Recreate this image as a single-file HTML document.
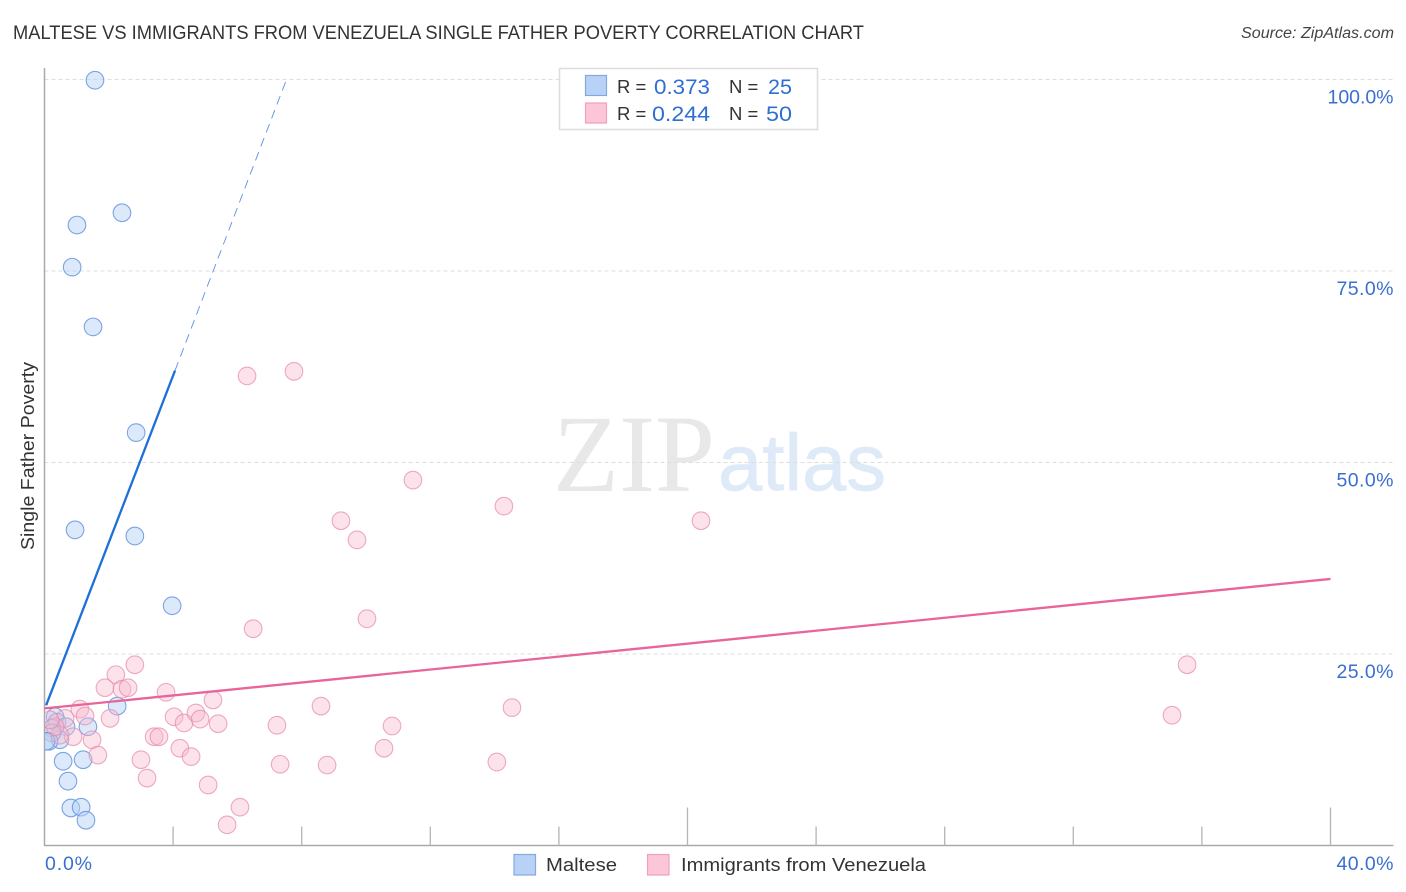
<!DOCTYPE html>
<html lang="en">
<head>
<meta charset="utf-8">
<title>Maltese vs Immigrants from Venezuela Single Father Poverty Correlation Chart</title>
<style>
html,body{margin:0;padding:0;background:#fff;}
svg{display:block;font-family:"Liberation Sans",sans-serif;}
</style>
</head>
<body>
<svg id="chart" width="1406" height="892" viewBox="0 0 1406 892" xmlns="http://www.w3.org/2000/svg">
  <defs>
    <clipPath id="plot-clip"><rect x="45" y="60" width="1350" height="786"/></clipPath>
  </defs>
  <rect x="0" y="0" width="1406" height="892" fill="#fff"/>
  <text x="13" y="39" font-size="19" fill="#333" textLength="851" lengthAdjust="spacingAndGlyphs">MALTESE VS IMMIGRANTS FROM VENEZUELA SINGLE FATHER POVERTY CORRELATION CHART</text>
  <text x="1241" y="38" font-size="15.5" font-style="italic" fill="#444" textLength="153" lengthAdjust="spacingAndGlyphs">Source: ZipAtlas.com</text>
  <g>
    <text x="553" y="491" font-family="'Liberation Serif',serif" font-size="110" fill="#e8e8e8" textLength="162" lengthAdjust="spacingAndGlyphs">ZIP</text>
    <text x="718" y="490" font-size="80" fill="#dfeaf8" stroke="#dfeaf8" stroke-width="0.8" textLength="168" lengthAdjust="spacingAndGlyphs">atlas</text>
  </g>
  <g id="grid"></g>
  <g id="axes"></g>
  <g id="points" clip-path="url(#plot-clip)"></g>
  <g id="trends"></g>
  <text x="0" y="0" transform="translate(34,456) rotate(-90)" font-size="18.5" fill="#333" text-anchor="middle" textLength="188" lengthAdjust="spacingAndGlyphs">Single Father Poverty</text>
  <g>
    <rect x="559.5" y="68.5" width="258" height="61" fill="#fff" stroke="#ddd" stroke-width="1.5"/>
    <rect x="585.5" y="75.5" width="21" height="20" fill="#b7d2f6" stroke="#86a8e0" stroke-width="1.2"/>
    <rect x="585.5" y="103" width="21" height="20" fill="#fcc5d8" stroke="#f0a0bb" stroke-width="1.2"/>
    <text x="617" y="93" font-size="18.5" fill="#333">R =</text>
    <text x="654" y="94" font-size="21" fill="#2f6fd0" textLength="56" lengthAdjust="spacingAndGlyphs">0.373</text>
    <text x="729" y="93" font-size="18.5" fill="#333">N =</text>
    <text x="768" y="94" font-size="21" fill="#2f6fd0" textLength="24" lengthAdjust="spacingAndGlyphs">25</text>
    <text x="617" y="120" font-size="18.5" fill="#333">R =</text>
    <text x="652" y="121" font-size="21" fill="#2f6fd0" textLength="58" lengthAdjust="spacingAndGlyphs">0.244</text>
    <text x="729" y="120" font-size="18.5" fill="#333">N =</text>
    <text x="766" y="121" font-size="21" fill="#2f6fd0" textLength="26" lengthAdjust="spacingAndGlyphs">50</text>
  </g>
  <g>
    <rect x="514" y="854.5" width="21.5" height="20.5" fill="#b7d2f6" stroke="#86a8e0" stroke-width="1.2"/>
    <text x="546" y="871" font-size="18.5" fill="#333" textLength="71" lengthAdjust="spacingAndGlyphs">Maltese</text>
    <rect x="647.5" y="854.5" width="21.5" height="20.5" fill="#fcc5d8" stroke="#f0a0bb" stroke-width="1.2"/>
    <text x="681" y="871" font-size="18.5" fill="#333" textLength="245" lengthAdjust="spacingAndGlyphs">Immigrants from Venezuela</text>
  </g>
</svg>
<script>
const yTickValues = [25, 50, 75, 100];
const yTickLabels = ['25.0%', '50.0%', '75.0%', '100.0%'];
const xTickValues = [4, 8, 12, 16, 20, 24, 28, 32, 36, 40];
const xMajorTicks = [20, 40];
const xEndValues = [0, 40];
const xEndLabels = ['0.0%', '40.0%'];

const malteseX = [1.57, 2.41, 1.01, 0.86, 1.51, 2.85, 0.95, 2.81, 3.97, 2.26, 1.35, 1.20, 0.58, 0.73, 0.82, 1.14, 1.29, 0.33, 0.39, 0.67, 0.23, 0.48, 0.23, 0.14, 0.05];
const malteseY = [99.9, 82.6, 81.0, 75.5, 67.7, 53.9, 41.2, 40.4, 31.3, 18.2, 15.5, 11.2, 11.0, 8.4, 4.9, 5.0, 3.3, 16.8, 16.1, 15.5, 15.3, 13.8, 14.7, 13.6, 13.6];

const venezuelaX = [6.30, 7.76, 11.46, 14.29, 20.42, 9.22, 9.72, 10.03, 6.49, 2.81, 2.22, 1.88, 2.41, 2.60, 3.78, 5.24, 8.60, 14.54, 35.54, 35.07, 1.10, 1.26, 2.04, 4.03, 4.34, 4.71, 4.84, 5.40, 7.23, 10.81, 3.41, 3.56, 1.48, 0.89, 4.21, 10.56, 1.66, 3.00, 4.56, 7.33, 8.79, 14.07, 3.19, 5.09, 6.08, 5.68, 0.48, 0.64, 0.33, 0.17];
const venezuelaY = [61.3, 61.9, 47.7, 44.3, 42.4, 42.4, 39.9, 29.6, 28.3, 23.6, 22.3, 20.6, 20.4, 20.6, 20.0, 19.0, 18.2, 18.0, 23.6, 17.0, 17.8, 16.9, 16.6, 16.8, 16.0, 17.3, 16.5, 15.9, 15.7, 15.6, 14.2, 14.2, 13.8, 14.2, 12.7, 12.7, 11.8, 11.2, 11.6, 10.6, 10.5, 10.9, 8.8, 7.9, 5.0, 2.7, 14.4, 16.6, 15.5, 16.4];

const malteseTrendX = [0.05, 4.06];
const malteseTrendY = [18.3, 62.0];
const malteseDashX = [4.06, 7.5];
const malteseDashY = [62.0, 99.7];
const venezuelaTrendX = [0, 40];
const venezuelaTrendY = [17.9, 34.8];

const NS = 'http://www.w3.org/2000/svg';
const xScale = v => 44.5 + v * 32.15;
const yScale = v => 845.5 - v * 7.66;

function make(parent, tag, attrs, text) {
  const el = document.createElementNS(NS, tag);
  for (const k in attrs) el.setAttribute(k, attrs[k]);
  if (text !== undefined) el.textContent = text;
  parent.appendChild(el);
  return el;
}

const grid = document.getElementById('grid');
const axes = document.getElementById('axes');
const points = document.getElementById('points');
const trends = document.getElementById('trends');

yTickValues.forEach((v, i) => {
  const line = make(grid, 'line', {x1: 44.5, x2: 1393, y1: yScale(v), y2: yScale(v), stroke: '#dedede', 'stroke-width': 1, 'stroke-dasharray': '4 3'});
  
  
  const width = yTickLabels[i].length > 5 ? 66 : 57;
  const label = make(axes, 'text', {x: 1393.5 - width, y: yScale(v) + 24, 'font-size': 19.5, fill: '#3a6fd0', textLength: width, lengthAdjust: 'spacing'}, yTickLabels[i]);
  
  
});

const yAxisLine = make(axes, 'line', {x1: 44.5, x2: 44.5, y1: 68, y2: 846, stroke: '#a9a9a9', 'stroke-width': 1.5});



const xAxisLine = make(axes, 'line', {x1: 44, x2: 1393.5, y1: 845.5, y2: 845.5, stroke: '#a9a9a9', 'stroke-width': 1.5});



xTickValues.forEach(v => {
  const len = xMajorTicks.includes(v) ? 38 : 19;
  const tick = make(axes, 'line', {x1: xScale(v), x2: xScale(v), y1: 845.5 - len, y2: 845.5, stroke: '#b4b4b4', 'stroke-width': 1.3});
  
  
});

xEndValues.forEach((v, i) => {
  const width = i === 0 ? 47 : 57;
  const px = i === 0 ? xScale(v) + 0.5 : 1393.5 - width;
  const label = make(axes, 'text', {x: px, y: 870, 'font-size': 19.5, fill: '#3a6fd0', textLength: width, lengthAdjust: 'spacing'}, xEndLabels[i]);
  
  
});

malteseX.forEach((v, i) => {
  const c = make(points, 'circle', {cx: xScale(v), cy: yScale(malteseY[i]), r: 8.8, fill: '#b3d0f5', 'fill-opacity': 0.48, stroke: '#5f90dc', 'stroke-opacity': 0.8, 'stroke-width': 1.1});
  
  
});

venezuelaX.forEach((v, i) => {
  const c = make(points, 'circle', {cx: xScale(v), cy: yScale(venezuelaY[i]), r: 8.8, fill: '#f8bbd0', 'fill-opacity': 0.42, stroke: '#e88aaa', 'stroke-opacity': 0.72, 'stroke-width': 1.1});
  
  
});

const venezuelaLine = make(trends, 'line', {x1: xScale(venezuelaTrendX[0]), y1: yScale(venezuelaTrendY[0]), x2: xScale(venezuelaTrendX[1]), y2: yScale(venezuelaTrendY[1]), stroke: '#e8659a', 'stroke-width': 2.3});



const malteseLine = make(trends, 'line', {x1: xScale(malteseTrendX[0]), y1: yScale(malteseTrendY[0]), x2: xScale(malteseTrendX[1]), y2: yScale(malteseTrendY[1]), stroke: '#1f6fd8', 'stroke-width': 2.3});



const malteseDash = make(trends, 'line', {x1: xScale(malteseDashX[0]), y1: yScale(malteseDashY[0]), x2: xScale(malteseDashX[1]), y2: yScale(malteseDashY[1]), stroke: '#5a92e0', 'stroke-width': 0.9, 'stroke-dasharray': '9 6'});


</script>
</body>
</html>
